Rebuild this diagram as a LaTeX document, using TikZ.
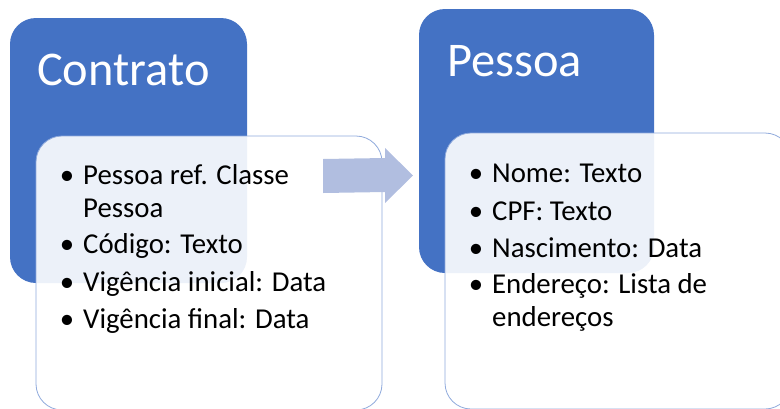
\documentclass[tikz,border=0pt]{standalone}
\usepackage{fontspec}
\setmainfont{Carlito}
\definecolor{cabec}{RGB}{68,114,196}
\definecolor{borda}{RGB}{143,170,220}
\definecolor{setacor}{RGB}{177,190,224}
\newcommand{\marca}{\llap{•\hspace{9pt}}}
\begin{document}
\begin{tikzpicture}[x=1pt,y=-1pt,
  cabecalho/.style={rectangle, fill=cabec, draw=none, rounded corners=26pt, inner sep=0pt},
  corpo/.style={rectangle, draw=borda, line width=0.8pt, fill=white, fill opacity=0.9, rounded corners=26pt, inner sep=0pt},
  titulo/.style={text=white, anchor=base west, inner sep=0pt, font=\fontsize{48.4}{58}\selectfont},
  item/.style={anchor=base west, inner sep=0pt, align=left, font=\fontsize{28.8}{33}\selectfont}]
\useasboundingbox (0,0) rectangle (780,408);
\clip (0,0) rectangle (780,408);

% Contrato
\node[cabecalho, minimum width=237pt, minimum height=265pt] (contratoCab) at (128.5,150.5) {};
\node[corpo, minimum width=346pt, minimum height=274pt] (contratoCorpo) at (209,273) {};
\node[titulo] (contratoTit) at (37,85) {Contrato};
% two-line items sit on the baseline of their last line
\node[item] (c1) at (83,217) {\marca Pessoa ref. Classe\\Pessoa};
\node[item] (c2) at (83,253) {\marca Código: Texto};
\node[item] (c3) at (83,291) {\marca Vigência inicial: Data};
\node[item] (c4) at (83,328) {\marca Vigência final: Data};

% Pessoa
\node[cabecalho, minimum width=235pt, minimum height=264pt] (pessoaCab) at (536.5,141) {};
\node[corpo, minimum width=346pt, minimum height=276pt] (pessoaCorpo) at (618,271) {};
\node[titulo] (pessoaTit) at (447,76) {Pessoa};
\node[item] (p1) at (492,182) {\marca Nome: Texto};
\node[item] (p2) at (492,220) {\marca CPF: Texto};
\node[item] (p3) at (492,257) {\marca Nascimento: Data};
\node[item] (p4) at (492,326) {\marca Endereço: Lista de\\endereços};

% block arrow between the two groups
\fill[setacor] (323,159) -- (385,158) -- (385,148) -- (413,175.5)
  -- (385,203) -- (385,192) -- (323,193) -- cycle;
\end{tikzpicture}
\end{document}
